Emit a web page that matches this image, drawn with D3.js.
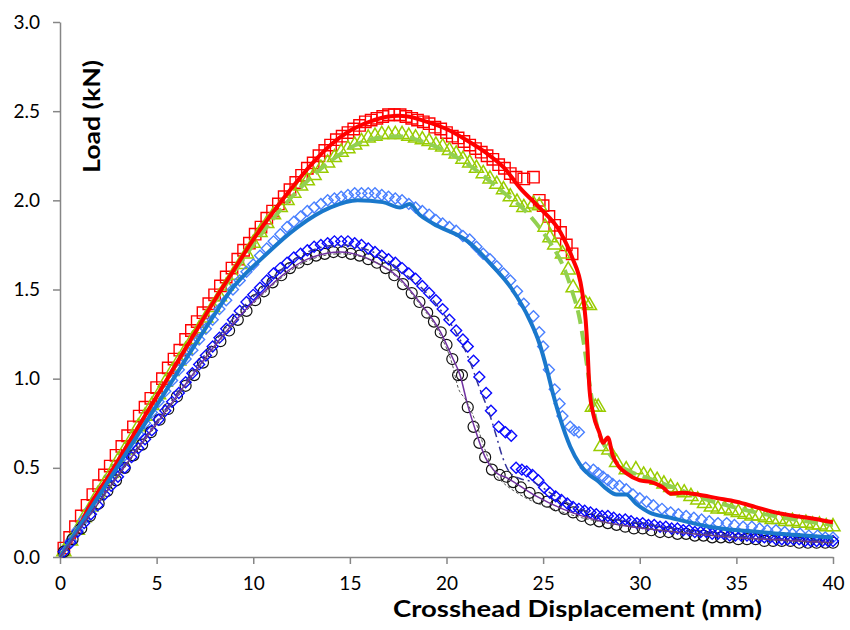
<!DOCTYPE html>
<html>
<head>
<meta charset="utf-8">
<script src="https://cdnjs.cloudflare.com/ajax/libs/d3/7.8.5/d3.min.js"></script>
<style>
    body { margin: 0; background: #ffffff; }
    svg { display: block; }
</style>
</head>
<body>
<svg id="chart" width="850" height="630"></svg>
<script>

// axis ticks
var xTicks = [ 0, 5, 10, 15, 20, 25, 30, 35, 40 ];
var yTicks = [ 0, 0.5, 1.0, 1.5, 2.0, 2.5, 3.0 ];

// red squares (markers) and red solid line
var redSquares = [
    [0.2,0.05],[0.5,0.11],[0.8,0.17],[1.1,0.23],[1.4,0.29],[1.7,0.35],[2.0,0.40],[2.3,0.46],[2.6,0.51],[2.9,0.57],
    [3.2,0.62],[3.5,0.68],[3.8,0.73],[4.1,0.79],[4.4,0.84],[4.7,0.89],[5.0,0.95],[5.3,1.00],[5.6,1.06],[5.9,1.11],
    [6.2,1.16],[6.5,1.22],[6.8,1.27],[7.1,1.32],[7.4,1.37],[7.7,1.42],[8.0,1.47],[8.3,1.52],[8.6,1.57],[8.9,1.62],
    [9.2,1.67],[9.5,1.72],[9.8,1.76],[10.1,1.81],[10.4,1.85],[10.7,1.90],[11.0,1.94],[11.3,1.98],[11.6,2.02],[11.9,2.06],
    [12.2,2.10],[12.5,2.14],[12.8,2.18],[13.1,2.21],[13.4,2.25],[13.7,2.28],[14.0,2.31],[14.3,2.34],[14.6,2.36],[14.9,2.38],
    [15.2,2.40],[15.5,2.42],[15.8,2.44],[16.1,2.45],[16.4,2.46],[16.7,2.47],[17.0,2.48],[17.3,2.48],[17.6,2.48],[17.9,2.47],
    [18.2,2.46],[18.5,2.45],[18.8,2.44],[19.1,2.43],[19.4,2.41],[19.7,2.40],[20.0,2.38],[20.3,2.36],[20.6,2.35],[20.9,2.33],
    [21.2,2.31],[21.5,2.29],[21.8,2.27],[22.1,2.25],[22.4,2.23],[22.7,2.20],[23.0,2.18],[23.3,2.15],[23.6,2.13],[24.0,2.12],
    [24.5,2.13],[24.8,2.00],[25.0,1.97],[25.3,1.91],[25.6,1.86],[25.9,1.82],[26.2,1.75],[26.5,1.70]
];
var redLine = [
    [0,0],[0.5,0.08],[1,0.17],[1.5,0.28],[2,0.37],[2.5,0.45],[3,0.54],[4,0.72],[5,0.90],[6,1.08],[7,1.26],[8,1.44],
    [9,1.61],[10,1.78],[11,1.93],[12,2.07],[13,2.20],[14,2.31],[15,2.39],[16,2.44],[17,2.47],[17.5,2.475],[18,2.47],
    [19,2.44],[20,2.40],[21,2.34],[22,2.27],[23,2.18],[23.8,2.07],[24.8,1.96],[25.9,1.82],[26.5,1.68],[27.0,1.50],
    [27.2,1.33],[27.3,1.16],[27.4,0.94],[27.6,0.80],[27.9,0.70],[28.1,0.64],[28.35,0.67],[28.6,0.57],[28.9,0.51],
    [29.3,0.47],[30,0.43],[30.6,0.42],[31.2,0.39],[31.6,0.355],[32.2,0.36],[33,0.35],[34,0.33],[35,0.31],[36,0.28],
    [37,0.25],[38,0.23],[39,0.215],[40,0.195]
];

// green triangles (markers) and green dashed line
var greenTriangles = [
    [0.2,0.03],[0.55,0.09],[0.9,0.15],[1.25,0.22],[1.6,0.28],[1.95,0.35],[2.3,0.41],[2.65,0.47],[3.0,0.54],[3.35,0.60],
    [3.7,0.66],[4.05,0.73],[4.4,0.79],[4.75,0.85],[5.1,0.91],[5.45,0.98],[5.8,1.04],[6.15,1.10],[6.5,1.16],[6.85,1.22],
    [7.2,1.28],[7.55,1.34],[7.9,1.40],[8.25,1.46],[8.6,1.52],[8.95,1.58],[9.3,1.64],[9.65,1.70],[10.0,1.76],[10.35,1.82],
    [10.7,1.87],[11.05,1.92],[11.4,1.96],[11.75,2.00],[12.1,2.04],[12.45,2.08],[12.8,2.11],[13.15,2.14],[13.5,2.18],[13.85,2.21],
    [14.2,2.24],[14.55,2.27],[14.9,2.29],[15.25,2.31],[15.6,2.33],[15.95,2.35],[16.3,2.36],[16.65,2.37],[17.0,2.37],[17.35,2.37],
    [17.7,2.37],[18.05,2.36],[18.4,2.35],[18.75,2.34],[19.1,2.33],[19.45,2.31],[19.8,2.30],[20.15,2.28],[20.5,2.26],[20.85,2.23],
    [21.2,2.21],[21.55,2.18],[21.9,2.15],[22.25,2.12],[22.6,2.09],[22.95,2.06],[23.3,2.02],[23.65,1.99],[24.0,1.96],[24.5,1.98],
    [24.8,1.97],[25.1,1.85],[25.35,1.79],[25.6,1.75],[26.0,1.70],[26.3,1.61],[26.55,1.51],[27.0,1.42],[27.2,1.42],[27.4,1.41],
    [27.55,0.84],[27.7,0.84],[27.85,0.84],[28.0,0.62],[28.4,0.60],[28.8,0.53],[29.3,0.49],[29.8,0.49],[30.2,0.46],[30.55,0.45],
    [30.9,0.43],[31.25,0.41],[31.6,0.39],[31.95,0.37],[32.3,0.36],[32.65,0.34],[33.0,0.32],[33.35,0.30],[33.7,0.28],[34.05,0.27],
    [34.4,0.27],[34.75,0.26],[35.1,0.25],[35.45,0.24],[35.8,0.23],[36.15,0.23],[36.5,0.22],[36.85,0.21],[37.2,0.21],[37.55,0.20],
    [37.9,0.20],[38.25,0.19],[38.6,0.19],[38.95,0.18],[39.3,0.18],[39.65,0.17],[40.0,0.17]
];
var greenLine = [
    [0,0],[2,0.36],[5,0.90],[8,1.43],[10,1.75],[12,2.02],[14,2.22],[16,2.34],[17.5,2.36],[19,2.32],[21,2.21],
    [23,2.04],[24,1.95],[25,1.82],[25.5,1.74],[26,1.64],[26.5,1.49],[26.9,1.33],[27.1,1.20],[27.3,1.05],[27.5,0.90],
    [27.8,0.73],[28.2,0.62],[28.8,0.53],[29.5,0.48],[30.5,0.44],[31.5,0.40],[32.5,0.36],[33.5,0.32],[34.5,0.29],
    [36,0.25],[38,0.21],[40,0.18]
];

// light blue diamonds (markers) and blue solid line
var lightDiamonds = [
    [0.2,0.03],[0.55,0.09],[0.9,0.15],[1.25,0.21],[1.6,0.27],[1.95,0.33],[2.3,0.39],[2.65,0.45],[3.0,0.51],[3.35,0.57],
    [3.7,0.63],[4.05,0.69],[4.4,0.75],[4.75,0.81],[5.1,0.87],[5.45,0.93],[5.8,0.99],[6.15,1.05],[6.5,1.11],[6.85,1.16],
    [7.2,1.22],[7.55,1.28],[7.9,1.33],[8.25,1.39],[8.6,1.44],[8.95,1.50],[9.3,1.55],[9.65,1.60],[10.0,1.64],[10.35,1.69],
    [10.7,1.73],[11.05,1.77],[11.4,1.81],[11.75,1.85],[12.1,1.88],[12.45,1.91],[12.8,1.94],[13.15,1.96],[13.5,1.98],[13.85,2.00],
    [14.2,2.01],[14.55,2.02],[14.9,2.03],[15.25,2.04],[15.6,2.04],[15.95,2.04],[16.3,2.04],[16.65,2.03],[17.0,2.02],[17.35,2.01],
    [17.7,2.00],[18.05,1.98],[18.4,1.96],[18.75,1.94],[19.1,1.92],[19.45,1.89],[19.8,1.87],[20.15,1.85],[20.5,1.83],[20.85,1.80],
    [21.2,1.78],[21.55,1.74],[21.9,1.70],[22.25,1.67],[22.6,1.63],[22.95,1.59],[23.3,1.55],[23.65,1.49],[24.0,1.42],[24.5,1.35],
    [24.8,1.26],[25.0,1.18],[25.3,1.05],[25.6,0.94],[25.85,0.86],[26.0,0.79],[26.4,0.73],[26.6,0.71],[26.85,0.70],[27.2,0.50],
    [27.6,0.49],[27.85,0.47],[28.1,0.45],[28.35,0.43],[28.6,0.41],[28.95,0.40],[29.3,0.38],[29.65,0.35],[30.0,0.33],[30.35,0.31],
    [30.7,0.29],[31.15,0.27],[31.6,0.25],[32.0,0.24],[32.4,0.23],[32.8,0.22],[33.2,0.21],[33.6,0.20],[34.05,0.19],[34.5,0.19],
    [34.9,0.18],[35.35,0.17],[35.8,0.17],[36.2,0.16],[36.6,0.15],[37.05,0.15],[37.5,0.14],[37.9,0.13],[38.3,0.13],[38.75,0.12],
    [39.2,0.12],[39.6,0.11],[40.0,0.11]
];
var blueLine = [
    [0,0],[2,0.34],[5,0.85],[8,1.36],[8.8,1.49],[10.5,1.68],[12.3,1.85],[14,1.96],[15.4,2.00],[16.7,1.99],[17.6,1.96],
    [18.1,1.98],[18.6,1.92],[19.3,1.87],[21.1,1.77],[22.4,1.63],[23.4,1.50],[24.3,1.33],[24.8,1.20],[25.2,1.05],
    [25.5,0.92],[25.9,0.77],[26.4,0.62],[26.9,0.52],[27.4,0.46],[27.8,0.43],[28.3,0.38],[28.8,0.35],[29.3,0.35],
    [29.8,0.30],[30.5,0.25],[31.6,0.22],[33.6,0.17],[36.2,0.14],[40,0.11]
];

// dark blue diamonds (markers) and dash-dot line
var darkDiamonds = [
    [0.2,0.03],[0.55,0.08],[0.9,0.14],[1.25,0.19],[1.6,0.24],[1.95,0.29],[2.3,0.35],[2.65,0.40],[3.0,0.45],[3.35,0.50],
    [3.7,0.56],[4.05,0.61],[4.4,0.66],[4.75,0.71],[5.1,0.77],[5.45,0.82],[5.8,0.87],[6.15,0.92],[6.5,0.98],[6.85,1.03],
    [7.2,1.08],[7.55,1.13],[7.9,1.18],[8.25,1.23],[8.6,1.28],[8.95,1.33],[9.3,1.38],[9.65,1.43],[10.0,1.47],[10.35,1.51],
    [10.7,1.55],[11.05,1.59],[11.4,1.62],[11.75,1.65],[12.1,1.68],[12.45,1.70],[12.8,1.72],[13.15,1.74],[13.5,1.75],[13.85,1.76],
    [14.2,1.77],[14.55,1.77],[14.9,1.77],[15.25,1.76],[15.6,1.75],[15.95,1.73],[16.3,1.71],[16.65,1.69],[17.0,1.67],[17.35,1.65],
    [17.7,1.62],[18.05,1.59],[18.4,1.56],[18.75,1.52],[19.1,1.48],[19.45,1.44],[19.8,1.39],[20.15,1.33],[20.5,1.27],[20.85,1.22],
    [21.1,1.18],[21.4,1.10],[21.7,1.01],[22.05,0.92],[22.3,0.82],[22.7,0.73],[23.05,0.70],[23.35,0.68],[23.6,0.50],[23.9,0.49],
    [24.15,0.48],[24.45,0.46],[24.75,0.43],[25.05,0.39],[25.35,0.36],[25.65,0.34],[25.95,0.32],[26.25,0.30],[26.55,0.28],[26.85,0.27],
    [27.15,0.26],[27.45,0.25],[27.75,0.24],[28.05,0.23],[28.35,0.23],[28.65,0.22],[28.95,0.21],[29.25,0.21],[29.55,0.20],[29.85,0.19],
    [30.15,0.19],[30.45,0.18],[30.75,0.18],[31.05,0.17],[31.35,0.17],[31.65,0.16],[31.95,0.16],[32.25,0.15],[32.55,0.15],[32.85,0.14],
    [33.15,0.14],[33.45,0.14],[33.75,0.13],[34.05,0.13],[34.35,0.13],[34.65,0.12],[34.95,0.12],[35.25,0.12],[35.55,0.12],[35.85,0.11],
    [36.15,0.11],[36.45,0.11],[36.75,0.11],[37.05,0.10],[37.35,0.10],[37.65,0.10],[37.95,0.10],[38.25,0.10],[38.55,0.09],[38.85,0.09],
    [39.15,0.09],[39.45,0.09],[39.75,0.09],[40.0,0.09]
];
var dashDotLine = [
    [0,0],[5,0.76],[10,1.46],[12.8,1.71],[14.5,1.75],[16.2,1.71],[17.7,1.60],[18.8,1.50],[19.8,1.37],[20.6,1.24],
    [21.2,1.10],[21.7,0.95],[22.2,0.81],[22.6,0.67],[22.9,0.56],[23.3,0.47],[23.8,0.44],[24.5,0.42],[25.5,0.35],
    [26.5,0.29],[28,0.23],[30,0.19],[33,0.14],[36,0.11],[40,0.09]
];

// black circles (markers), purple line and grey dashed line
var blackCircles = [
    [0.2,0.03],[0.65,0.10],[1.1,0.16],[1.55,0.23],[2.0,0.30],[2.45,0.37],[2.9,0.43],[3.35,0.50],[3.8,0.57],[4.25,0.63],
    [4.7,0.70],[5.15,0.77],[5.6,0.83],[6.05,0.90],[6.5,0.96],[6.95,1.02],[7.4,1.09],[7.85,1.15],[8.3,1.21],[8.75,1.27],
    [9.2,1.33],[9.65,1.38],[10.1,1.44],[10.55,1.49],[11.0,1.54],[11.45,1.58],[11.9,1.62],[12.35,1.65],[12.8,1.67],[13.25,1.69],
    [13.7,1.70],[14.15,1.71],[14.6,1.71],[15.05,1.70],[15.5,1.69],[15.95,1.67],[16.4,1.65],[16.85,1.62],[17.3,1.58],[17.75,1.53],
    [18.2,1.48],[18.6,1.43],[19.0,1.37],[19.35,1.32],[19.7,1.26],[20.0,1.19],[20.3,1.11],[20.6,1.02],[20.8,1.02],[21.1,0.84],
    [21.4,0.73],[21.7,0.64],[22.0,0.56],[22.35,0.49],[22.75,0.46],[23.1,0.45],[23.45,0.42],[23.85,0.39],[24.3,0.36],[24.75,0.33],
    [25.2,0.31],[25.65,0.29],[26.1,0.27],[26.55,0.25],[27.0,0.23],[27.45,0.21],[27.9,0.20],[28.35,0.19],[28.8,0.18],[29.25,0.17],
    [29.7,0.16],[30.15,0.16],[30.6,0.15],[31.05,0.14],[31.5,0.14],[31.95,0.13],[32.4,0.13],[32.85,0.12],[33.3,0.12],[33.75,0.11],
    [34.2,0.11],[34.65,0.11],[35.1,0.10],[35.55,0.10],[36.0,0.10],[36.45,0.09],[36.9,0.09],[37.35,0.09],[37.8,0.09],[38.25,0.08],
    [38.7,0.08],[39.15,0.08],[39.6,0.08],[40.0,0.08]
];
var purpleLine = [
    [0,0],[5,0.75],[10,1.43],[12.8,1.67],[14.5,1.71],[16.2,1.66],[17.5,1.57],[18.6,1.43],[19.7,1.26],[20.3,1.12],
    [20.7,1.02],[21.1,0.85],[21.5,0.71],[22,0.56],[22.5,0.48],[23.2,0.44],[24.5,0.35],[26,0.27],[28,0.20],[31,0.15],
    [35,0.11],[40,0.08]
];
var greyLine = [
    [0,0],[5,0.74],[10,1.42],[12.8,1.66],[14.5,1.70],[16.2,1.66],[17.5,1.56],[18.6,1.42],[19.7,1.24],[20.3,1.08],
    [20.6,0.95],[21.0,0.88],[21.5,0.76],[22,0.60],[22.5,0.47],[23,0.41],[23.5,0.37],[24.5,0.31],[25.5,0.27],[27,0.22],
    [29,0.18],[32,0.14],[36,0.10],[40,0.08]
];

var svg = d3.select('#chart');

var x = d3.scaleLinear()
    .domain([ 0, 40 ])
    .range([ 60, 833 ]);

var y = d3.scaleLinear()
    .domain([ 0, 3 ])
    .range([ 557, 22 ]);

var axisColor = '#868686';
var font = 'Lato, "Open Sans", "Liberation Sans", sans-serif';

// axes
var gx = svg.append('g')
    .attr('transform', 'translate(0,557)')
    .call( d3.axisBottom( x ).tickValues( xTicks ).tickSize( 7 ).tickSizeOuter( 0 ).tickFormat( d3.format('d') ) );

gx.selectAll('text')
    .attr('y', 33)
    .attr('dy', 0);

var gy = svg.append('g')
    .attr('transform', 'translate(60,0)')
    .call( d3.axisLeft( y ).tickValues( yTicks ).tickSize( 7 ).tickSizeOuter( 0 ).tickPadding( 13 ).tickFormat( d3.format('.1f') ) );

svg.selectAll('.domain, .tick line')
    .attr('stroke', axisColor)
    .attr('stroke-width', 1.5);

svg.selectAll('.tick text')
    .attr('fill', '#000')
    .style('font-family', font)
    .style('font-size', '19px');

// axis titles
svg.append('text')
    .attr('x', 393)
    .attr('y', 617)
    .attr('textLength', 369)
    .attr('lengthAdjust', 'spacingAndGlyphs')
    .style('font-family', font)
    .style('font-weight', 'bold')
    .style('font-size', '22px')
    .text('Crosshead Displacement (mm)');

svg.append('text')
    .attr('transform', 'translate(100,173) rotate(-90)')
    .attr('textLength', 113)
    .attr('lengthAdjust', 'spacingAndGlyphs')
    .style('font-family', font)
    .style('font-weight', 'bold')
    .style('font-size', '22px')
    .text('Load (kN)');

var plot = svg.append('g');

var line = d3.line()
    .x( function ( d ) { return x( d[0] ); } )
    .y( function ( d ) { return y( d[1] ); } )
    .curve( d3.curveMonotoneX );

var square = d3.symbol().type( d3.symbolSquare ).size( 130 );
var triangle = d3.symbol().type( d3.symbolTriangle ).size( 85 );
var diamond = d3.symbol().type( d3.symbolSquare ).size( 60 );

function drawMarkers ( data, path, color, width, rotate ) {

    plot.append('g')
        .selectAll('path')
        .data( data )
        .enter().append('path')
        .attr('d', path)
        .attr('transform', function ( d ) {
            return 'translate(' + x( d[0] ) + ',' + y( d[1] ) + ')' + ( rotate ? ' rotate(45)' : '' );
        })
        .attr('fill', 'none')
        .attr('stroke', color)
        .attr('stroke-width', width);

}

function drawLine ( data, color, width, dash ) {

    plot.append('path')
        .datum( data )
        .attr('d', line)
        .attr('fill', 'none')
        .attr('stroke', color)
        .attr('stroke-width', width)
        .attr('stroke-dasharray', dash || null)
        .attr('stroke-linejoin', 'round');

}

// markers
drawMarkers( redSquares, square, '#ff0000', 1.4, false );
drawMarkers( greenTriangles, triangle, '#99cc00', 1.5, false );
drawMarkers( lightDiamonds, diamond, '#4a80ff', 1.4, true );

plot.append('g')
    .selectAll('circle')
    .data( blackCircles )
    .enter().append('circle')
    .attr('cx', function ( d ) { return x( d[0] ); })
    .attr('cy', function ( d ) { return y( d[1] ); })
    .attr('r', 5.5)
    .attr('fill', 'none')
    .attr('stroke', '#111')
    .attr('stroke-width', 1.2);

drawMarkers( darkDiamonds, diamond, '#0a0aff', 1.4, true );

// lines
drawLine( greenLine, '#92d050', 4, '14,7' );
drawLine( redLine, '#ff0000', 4 );
drawLine( blueLine, '#1a78cc', 4 );
drawLine( dashDotLine, '#33339a', 1.5, '8,4,2,4' );
drawLine( purpleLine, '#7030a0', 1.5 );
drawLine( greyLine, '#555555', 1, '3,2' );

</script>
</body>
</html>
